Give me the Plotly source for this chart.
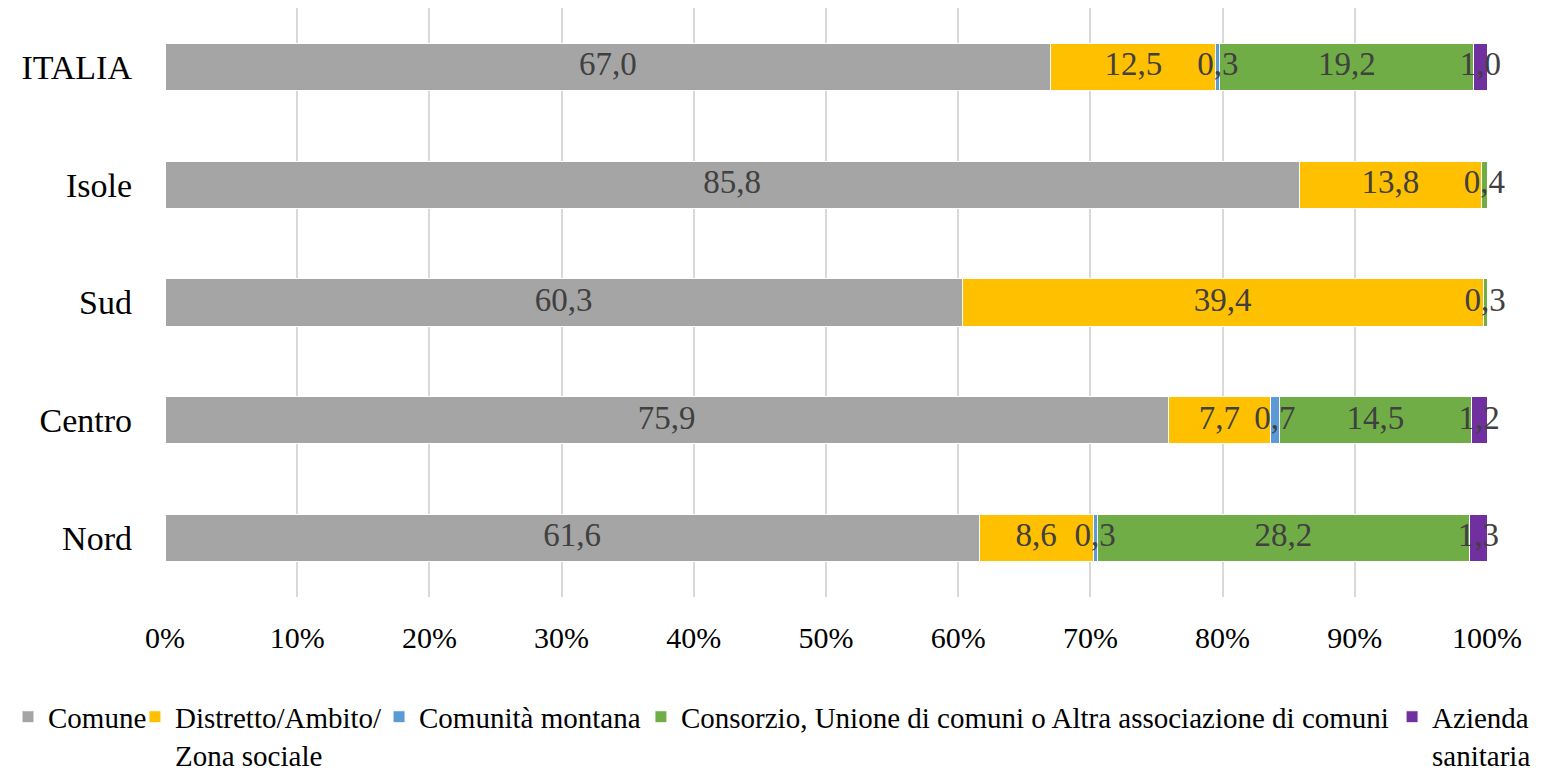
import plotly.graph_objects as go

# Data (percentages), categories bottom -> top
regioni = ["Nord", "Centro", "Sud", "Isole", "ITALIA"]

comune = [61.6, 75.9, 60.3, 85.8, 67.0]
distretto = [8.6, 7.7, 39.4, 13.8, 12.5]
comunita_montana = [0.3, 0.7, 0.0, 0.0, 0.3]
consorzio = [28.2, 14.5, 0.3, 0.4, 19.2]
azienda = [1.3, 1.2, 0.0, 0.0, 1.0]

serie = [
    ("Comune", comune, "#A5A5A5"),
    ("Distretto/Ambito/<br>Zona sociale", distretto, "#FFC000"),
    ("Comunità montana", comunita_montana, "#5B9BD5"),
    ("Consorzio, Unione di comuni o Altra associazione di comuni", consorzio, "#70AD47"),
    ("Azienda<br>sanitaria", azienda, "#7030A0"),
]

# left edge of each legend entry (fraction of figure width)
legend_x = [-0.0052, 0.0826, 0.2414, 0.4118, 0.9005]

FONT = "Liberation Serif"


def etichetta(v):
    return f"{v:.1f}".replace(".", ",") if v > 0 else ""


fig = go.Figure()
base = [0.0] * len(regioni)
lab_x, lab_y, lab_t = [], [], []
for i, (nome, valori, colore) in enumerate(serie):
    leg = "legend" if i == 0 else f"legend{i + 1}"
    fig.add_trace(go.Bar(
        y=regioni,
        x=valori,
        name=nome,
        orientation="h",
        marker=dict(color=colore, line=dict(color="white", width=1)),
        hoverinfo="x+y+name",
        legend=leg,
    ))
    for j, v in enumerate(valori):
        if v > 0:
            lab_x.append(base[j] + v / 2)
            lab_y.append(regioni[j])
            lab_t.append(etichetta(v))
        base[j] += v

# data labels centred on each segment
fig.add_trace(go.Scatter(
    x=lab_x,
    y=lab_y,
    text=lab_t,
    mode="text",
    textposition="middle center",
    textfont=dict(family=FONT, size=33, color="#404040"),
    cliponaxis=False,
    showlegend=False,
    hoverinfo="skip",
))

layout_legends = {}
for i, lx in enumerate(legend_x):
    key = "legend" if i == 0 else f"legend{i + 1}"
    layout_legends[key] = dict(
        orientation="h",
        x=lx,
        xref="container",
        xanchor="left",
        y=0.1055,
        yref="container",
        yanchor="top",
        valign="top",
        itemwidth=30,
        bgcolor="rgba(0,0,0,0)",
        font=dict(family=FONT, size=29, color="#000000"),
    )

fig.update_layout(
    barmode="stack",
    bargap=0.6,
    width=1537,
    height=764,
    margin=dict(l=157, r=58, t=0, b=175, autoexpand=False),
    plot_bgcolor="white",
    paper_bgcolor="white",
    font=dict(family=FONT, color="#000000"),
    xaxis=dict(
        range=[0, 100],
        tickvals=[0, 10, 20, 30, 40, 50, 60, 70, 80, 90, 100],
        ticktext=["0%", "10%", "20%", "30%", "40%", "50%", "60%", "70%", "80%", "90%", "100%"],
        showgrid=True,
        gridcolor="#D9D9D9",
        gridwidth=2,
        zeroline=False,
        showline=False,
        ticks="",
        automargin=False,
        ticklabelstandoff=20,
        tickfont=dict(family=FONT, size=30, color="#000000"),
    ),
    yaxis=dict(
        showgrid=False,
        showline=False,
        ticks="",
        automargin=False,
        ticklabelstandoff=32,
        tickfont=dict(family=FONT, size=34, color="#000000"),
    ),
    **layout_legends,
)

fig.write_html("out.html")
